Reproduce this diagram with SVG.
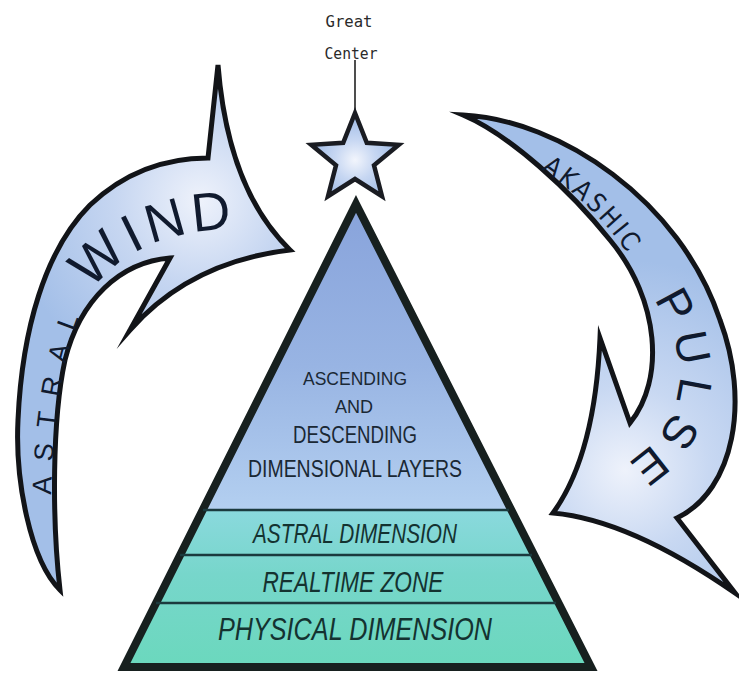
<svg xmlns="http://www.w3.org/2000/svg" width="739" height="677" viewBox="0 0 739 677">
  <style>
    .arrow { stroke: #121418; stroke-width: 5; stroke-linejoin: miter; stroke-miterlimit: 10; }
    .atext { font-family: "Liberation Sans", Arial, sans-serif; fill: #101a2e; }
    .narrow { font-family: "DejaVu Sans Condensed", "DejaVu Sans", sans-serif; font-stretch: condensed; fill: #101a2e; }
    .tri-text { font-family: "Liberation Sans", Arial, sans-serif; fill: #1a2834; text-anchor: middle; }
    .band-text { font-family: "Liberation Sans", Arial, sans-serif; fill: #143230; font-style: italic; text-anchor: middle; }
    .layer { stroke: #1b3a3e; stroke-width: 2.5; }
    .gc { font-family: "DejaVu Sans Mono", monospace; font-size: 18; fill: #2a2a2a; text-anchor: middle; }
  </style>
  <defs>
    <radialGradient id="gLeft" gradientUnits="userSpaceOnUse" cx="200" cy="200" r="190">
      <stop offset="0" stop-color="#eef2fb"/>
      <stop offset="0.45" stop-color="#c6d6f1"/>
      <stop offset="1" stop-color="#a3bfe8"/>
    </radialGradient>
    <radialGradient id="gRight" gradientUnits="userSpaceOnUse" cx="625" cy="470" r="210">
      <stop offset="0" stop-color="#eef2fb"/>
      <stop offset="0.4" stop-color="#c8d8f2"/>
      <stop offset="1" stop-color="#a3bfe8"/>
    </radialGradient>
    <radialGradient id="gStar" gradientUnits="userSpaceOnUse" cx="355" cy="160" r="40">
      <stop offset="0" stop-color="#f2f5fc"/>
      <stop offset="0.5" stop-color="#c7d7f2"/>
      <stop offset="1" stop-color="#a6c0e8"/>
    </radialGradient>
    <linearGradient id="gTri" gradientUnits="userSpaceOnUse" x1="0" y1="204" x2="0" y2="667">
      <stop offset="0" stop-color="#88a3db"/>
      <stop offset="0.35" stop-color="#98b4e3"/>
      <stop offset="0.66" stop-color="#b3cff0"/>
      <stop offset="0.661" stop-color="#8ad9dd"/>
      <stop offset="0.8" stop-color="#77d6cb"/>
      <stop offset="1" stop-color="#6bd8bd"/>
    </linearGradient>
    <path id="leftTextPath" d="M 52 575 C 48 470, 55 380, 80 315 C 105 255, 160 232, 235 228"/>
    <path id="akashicPath" d="M 536 166 Q 604 210 642 276"/>
    <path id="pulsePath" d="M 652 298 C 690 350, 695 420, 625 465"/>
  </defs>

  <rect width="739" height="677" fill="#ffffff"/>

  <g id="great-center">
    <line x1="355" y1="60" x2="355" y2="114" stroke="#222" stroke-width="1.6"/>
    <text class="gc" x="349" y="27" textLength="47" lengthAdjust="spacingAndGlyphs">Great</text>
    <text class="gc" x="351" y="59" textLength="53" lengthAdjust="spacingAndGlyphs">Center</text>
  </g>

  <g id="star">
    <polygon points="355,113 366.8,142.8 398.7,144.8 374,165.2 382,196.2 355,179 328,196.2 336,165.2 311.3,144.8 343.2,142.8" fill="url(#gStar)" stroke="#1a1c22" stroke-width="4.5" stroke-linejoin="miter"/>
  </g>

  <g id="pyramid">
    <path d="M 356 204 L 591 667 L 124 667 Z" fill="url(#gTri)" stroke="#17201f" stroke-width="8" stroke-linejoin="miter"/>
    <line class="layer" x1="203" y1="510" x2="509" y2="510"/>
    <line class="layer" x1="180" y1="555" x2="532" y2="555"/>
    <line class="layer" x1="156" y1="603" x2="556" y2="603"/>
    <text class="tri-text" x="355" y="385" font-size="18" textLength="104" lengthAdjust="spacingAndGlyphs">ASCENDING</text>
    <text class="tri-text" x="354" y="413" font-size="18" textLength="38" lengthAdjust="spacingAndGlyphs">AND</text>
    <text class="tri-text" x="355" y="443" font-size="23" textLength="124" lengthAdjust="spacingAndGlyphs">DESCENDING</text>
    <text class="tri-text" x="355" y="477" font-size="23" textLength="214" lengthAdjust="spacingAndGlyphs">DIMENSIONAL LAYERS</text>
    <text class="band-text" x="355" y="543" font-size="28" textLength="204" lengthAdjust="spacingAndGlyphs">ASTRAL DIMENSION</text>
    <text class="band-text" x="353" y="592" font-size="30" textLength="181" lengthAdjust="spacingAndGlyphs">REALTIME ZONE</text>
    <text class="band-text" x="355" y="640" font-size="32" textLength="274" lengthAdjust="spacingAndGlyphs">PHYSICAL DIMENSION</text>
  </g>

  <g id="astral-wind">
    <path class="arrow" fill="url(#gLeft)" d="M 60 590 C 30 560, 15 480, 18 420 C 22 330, 45 250, 90 205 C 125 172, 165 158, 208 158 L 218 65 Q 228 190, 290 250 Q 190 262, 130 330 L 170 258 C 120 262, 80 300, 65 360 C 52 420, 52 520, 60 590 Z"/>
    <text class="atext" font-size="27" letter-spacing="15"><textPath href="#leftTextPath" startOffset="80">ASTRAL</textPath></text>
    <text class="atext" font-size="54" letter-spacing="5"><textPath href="#leftTextPath" startOffset="290">WIND</textPath></text>
  </g>

  <g id="akashic-pulse">
    <path class="arrow" fill="url(#gRight)" d="M 463 115 C 560 120, 680 200, 720 320 C 750 400, 735 490, 677 518 L 735 593 Q 630 520, 553 513 Q 595 455, 600 338 L 630 423 C 665 380, 660 300, 610 240 C 570 190, 510 135, 463 115 Z"/>
    <text class="narrow" font-size="26" letter-spacing="3"><textPath href="#akashicPath" startOffset="6">AKASHIC</textPath></text>
    <text class="atext" font-size="46" letter-spacing="9"><textPath href="#pulsePath" startOffset="2">PULSE</textPath></text>
  </g>
</svg>
